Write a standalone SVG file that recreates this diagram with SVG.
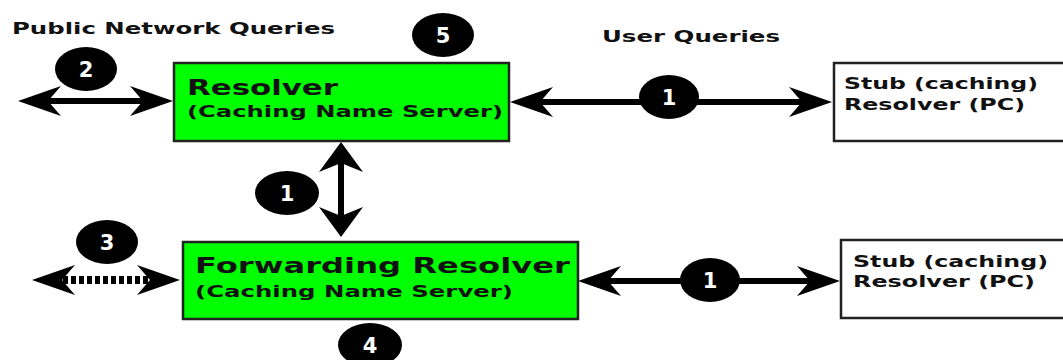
<svg xmlns="http://www.w3.org/2000/svg" xmlns:xlink="http://www.w3.org/1999/xlink" width="1063" height="360" viewBox="0 0 1063 360">
<style>
.box{fill:#00ff00;stroke:#222;stroke-width:2.5}
.stub{fill:#fff;stroke:#222;stroke-width:2.5}
.t{font-family:"DejaVu Sans",Verdana,sans-serif;font-weight:bold;fill:#111}
.num{font-family:"DejaVu Sans",Verdana,sans-serif;font-weight:bold;fill:#fff;font-size:21px;text-anchor:middle}
.badge{fill:#000}
.shaft{stroke:#000;stroke-width:6;fill:none}
.dash{stroke:#000;stroke-width:8;stroke-dasharray:5 3;fill:none}
.ah{fill:#000}
</style>
<defs>
<path id="ah" d="M0,0 L-43,-15 L-30,0 L-43,15 Z"/>
<path id="ahv" d="M0,0 L-30,-22 L-21,0 L-30,22 Z"/>
</defs>
<rect width="1063" height="360" fill="#fff"/>

<g id="labels">
<text class="t" x="12" y="34" font-size="15" textLength="323" lengthAdjust="spacingAndGlyphs">Public Network Queries</text>
<text class="t" x="602" y="42" font-size="16" textLength="178" lengthAdjust="spacingAndGlyphs">User Queries</text>
</g>

<g id="connectors">
<line class="shaft" x1="40" y1="101" x2="150" y2="101"/>
<use class="ah" href="#ah" transform="translate(173,101)"/>
<use class="ah" href="#ah" transform="translate(18,101) rotate(180)"/>

<line class="shaft" x1="530" y1="102" x2="810" y2="102"/>
<use class="ah" href="#ah" transform="translate(832,102)"/>
<use class="ah" href="#ah" transform="translate(510,102) rotate(180)"/>

<line class="shaft" x1="341" y1="160" x2="341" y2="220" stroke-width="8"/>
<use class="ah" href="#ahv" transform="translate(341,142) rotate(-90)"/>
<use class="ah" href="#ahv" transform="translate(341,237) rotate(90)"/>

<line class="dash" x1="63" y1="280" x2="148" y2="280"/>
<use class="ah" href="#ah" transform="translate(180,280)"/>
<use class="ah" href="#ah" transform="translate(32,280) rotate(180)"/>

<line class="shaft" x1="600" y1="281" x2="818" y2="281"/>
<use class="ah" href="#ah" transform="translate(840,281)"/>
<use class="ah" href="#ah" transform="translate(578,281) rotate(180)"/>
</g>

<g id="resolver">
<rect class="box" x="174" y="63" width="335" height="78"/>
<text class="t" x="187" y="95" font-size="21" textLength="151" lengthAdjust="spacingAndGlyphs">Resolver</text>
<text class="t" x="187" y="117" font-size="16" textLength="316" lengthAdjust="spacingAndGlyphs">(Caching Name Server)</text>
</g>

<g id="forwarding">
<rect class="box" x="183" y="242" width="395" height="77"/>
<text class="t" x="195" y="273" font-size="21" textLength="375" lengthAdjust="spacingAndGlyphs">Forwarding Resolver</text>
<text class="t" x="195" y="297" font-size="16" textLength="318" lengthAdjust="spacingAndGlyphs">(Caching Name Server)</text>
</g>

<g id="stub1">
<rect class="stub" x="834" y="63" width="240" height="78"/>
<text class="t" x="844" y="89" font-size="15" textLength="194" lengthAdjust="spacingAndGlyphs">Stub (caching)</text>
<text class="t" x="844" y="110" font-size="15" textLength="181" lengthAdjust="spacingAndGlyphs">Resolver (PC)</text>
</g>

<g id="stub2">
<rect class="stub" x="841" y="240" width="240" height="78"/>
<text class="t" x="853" y="267" font-size="15" textLength="195" lengthAdjust="spacingAndGlyphs">Stub (caching)</text>
<text class="t" x="853" y="287" font-size="15" textLength="182" lengthAdjust="spacingAndGlyphs">Resolver (PC)</text>
</g>

<g id="badge2"><ellipse class="badge" cx="86" cy="69" rx="31" ry="22"/><text class="num" x="86" y="77">2</text></g>
<g id="badge5"><ellipse class="badge" cx="443" cy="35" rx="31" ry="22"/><text class="num" x="443" y="43">5</text></g>
<g id="badge1a"><ellipse class="badge" cx="669" cy="97" rx="30" ry="22"/><text class="num" x="669" y="105">1</text></g>
<g id="badge1b"><ellipse class="badge" cx="287" cy="193" rx="32" ry="22"/><text class="num" x="287" y="201">1</text></g>
<g id="badge3"><ellipse class="badge" cx="107" cy="242" rx="31" ry="22"/><text class="num" x="107" y="250">3</text></g>
<g id="badge4"><ellipse class="badge" cx="370" cy="345" rx="32" ry="22"/><text class="num" x="370" y="353">4</text></g>
<g id="badge1c"><ellipse class="badge" cx="710" cy="280" rx="30" ry="22"/><text class="num" x="710" y="288">1</text></g>
</svg>
